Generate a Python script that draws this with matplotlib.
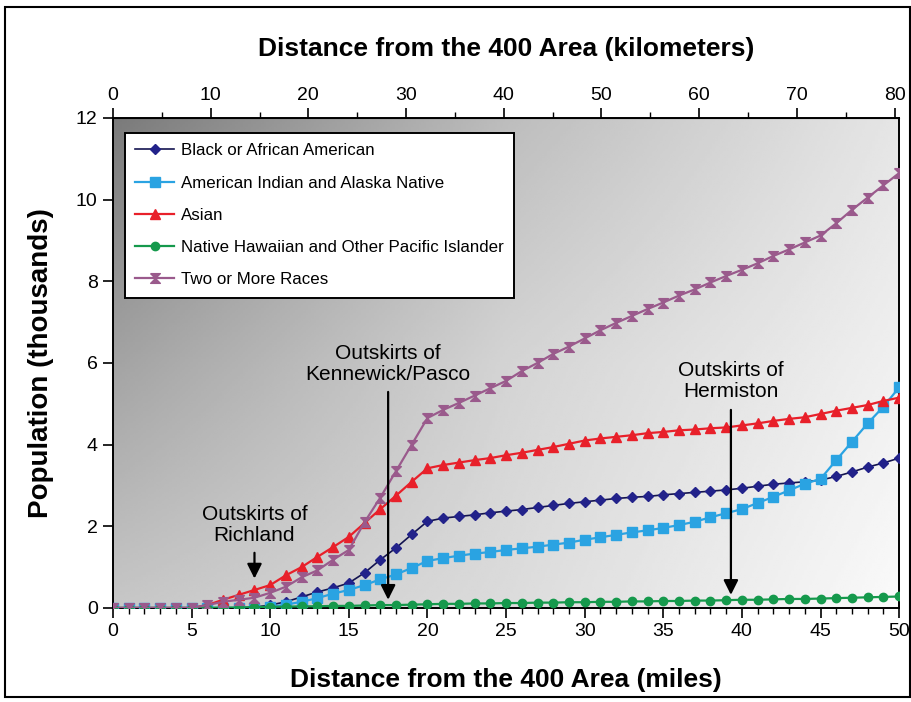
import numpy as np
import matplotlib
matplotlib.use("Agg")
import matplotlib.pyplot as plt
from matplotlib.patches import Rectangle

plt.rcParams['font.family'] = ['Liberation Sans', 'DejaVu Sans']

# distance from the 400 Area, miles
miles = list(range(0, 51))

# cumulative population (thousands) within each distance
black = [0, 0, 0, 0, 0, 0, 0, 0, 0, 0.02,
         0.07, 0.15, 0.27, 0.39, 0.49, 0.61, 0.86, 1.18, 1.47, 1.80,
         2.12, 2.20, 2.24, 2.28, 2.33, 2.37, 2.41, 2.46, 2.51, 2.56,
         2.60, 2.64, 2.68, 2.71, 2.73, 2.77, 2.80, 2.83, 2.86, 2.89,
         2.93, 2.98, 3.03, 3.06, 3.09, 3.13, 3.22, 3.33, 3.45, 3.55,
         3.67]
am_indian = [0, 0, 0, 0, 0, 0, 0, 0, 0, 0,
             0.02, 0.08, 0.15, 0.24, 0.35, 0.44, 0.56, 0.70, 0.82, 0.98,
             1.15, 1.22, 1.28, 1.33, 1.37, 1.42, 1.46, 1.50, 1.55, 1.60,
             1.67, 1.73, 1.79, 1.85, 1.90, 1.96, 2.03, 2.11, 2.22, 2.32,
             2.42, 2.57, 2.72, 2.88, 3.04, 3.16, 3.62, 4.07, 4.52, 4.93,
             5.40]
asian = [0, 0, 0, 0, 0, 0, 0.07, 0.20, 0.32, 0.44,
         0.56, 0.80, 1.00, 1.25, 1.49, 1.74, 2.08, 2.42, 2.75, 3.09,
         3.42, 3.50, 3.56, 3.62, 3.67, 3.74, 3.80, 3.87, 3.94, 4.02,
         4.10, 4.15, 4.19, 4.23, 4.28, 4.31, 4.35, 4.37, 4.40, 4.42,
         4.47, 4.52, 4.58, 4.63, 4.67, 4.75, 4.83, 4.90, 4.97, 5.07,
         5.15]
hawaiian = [0, 0, 0, 0, 0, 0, 0, 0.01, 0.01, 0.02,
            0.03, 0.03, 0.04, 0.04, 0.05, 0.05, 0.06, 0.07, 0.07, 0.08,
            0.09, 0.10, 0.10, 0.11, 0.11, 0.12, 0.12, 0.13, 0.13, 0.14,
            0.14, 0.15, 0.15, 0.16, 0.16, 0.17, 0.17, 0.18, 0.18, 0.19,
            0.20, 0.20, 0.21, 0.22, 0.22, 0.23, 0.24, 0.25, 0.26, 0.27,
            0.28]
two_plus = [0, 0, 0, 0, 0, 0, 0.07, 0.15, 0.20, 0.25,
            0.37, 0.52, 0.75, 0.92, 1.18, 1.42, 2.10, 2.70, 3.35, 4.00,
            4.65, 4.85, 5.02, 5.20, 5.38, 5.56, 5.80, 6.00, 6.22, 6.40,
            6.60, 6.80, 6.98, 7.15, 7.32, 7.48, 7.65, 7.80, 7.97, 8.13,
            8.28, 8.44, 8.62, 8.78, 8.95, 9.12, 9.42, 9.75, 10.05, 10.35,
            10.65]

labels = ['Black or African American',
          'American Indian and Alaska Native',
          'Asian',
          'Native Hawaiian and Other Pacific Islander',
          'Two or More Races']

# (text, x in miles, text y, arrow start y, arrow end y)
places = [('Outskirts of\nRichland', 9.0, 2.03, 1.35, 0.72),
          ('Outskirts of\nKennewick/Pasco', 17.5, 5.98, 5.29, 0.2),
          ('Outskirts of\nHermiston', 39.3, 5.56, 4.85, 0.32)]

hourglass = [(-1, 1), (1, 1), (-1, -1), (1, -1), (-1, 1)]

fig = plt.figure(figsize=(9.11, 7.02), dpi=100)
ax = fig.add_axes([0.124, 0.134, 0.863, 0.698])

# shaded background, dark top-left to near white bottom-right
shade = np.array([[0.48, 0.74, 0.90],
                  [0.64, 0.83, 0.94],
                  [0.78, 0.86, 0.98]])
nx, ny = 300, 200
gx = np.linspace(0, 2, nx)
gy = np.linspace(0, 2, ny)
rows = np.array([np.interp(gx, [0, 1, 2], r) for r in shade])
grid = np.array([np.interp(gy, [0, 1, 2], rows[:, i]) for i in range(nx)]).T
ax.imshow(grid, cmap='gray', vmin=0, vmax=1, aspect='auto',
          extent=(0, 50, 0, 12), origin='upper', zorder=0)

ax.plot(miles, black, color='#141450', marker='D', markersize=5.5,
        markerfacecolor='#22228a', markeredgecolor='#22228a', lw=1.2, label=labels[0], zorder=3)
ax.plot(miles, am_indian, color='#2aa3e2', marker='s', markersize=6.5,
        lw=1.6, label=labels[1], zorder=3)
ax.plot(miles, asian, color='#e8202a', marker='^', markersize=7.5,
        lw=1.6, label=labels[2], zorder=3)
ax.plot(miles, hawaiian, color='#15994c', marker='o', markersize=6,
        lw=1.6, label=labels[3], zorder=3)
ax.plot(miles, two_plus, color='#9a5a8c', marker=hourglass, markersize=7,
        lw=1.6, label=labels[4], zorder=4)

for txt, x, ty, y0, y1 in places:
    ax.text(x, ty, txt, ha='center', va='center', fontsize=15,
            linespacing=1.15, zorder=5)
    ax.annotate('', xy=(x, y1), xytext=(x, y0),
                arrowprops=dict(arrowstyle='-|>', color='black', lw=1.6,
                                mutation_scale=22, shrinkA=0, shrinkB=0),
                zorder=5)

ax.set_xlim(0, 50)
ax.set_ylim(0, 12)
ax.set_xticks(range(0, 51, 5))
ax.set_xticks(range(0, 51), minor=True)
ax.set_yticks(range(0, 13, 2))
ax.tick_params(axis='both', which='major', direction='out', length=7,
               width=1.2, labelsize=14, pad=4)
ax.tick_params(axis='x', which='minor', direction='out', length=4, width=1)
for s in ax.spines.values():
    s.set_linewidth(1.4)

ax.set_xlabel('Distance from the 400 Area (miles)', fontsize=19,
              fontweight='bold', labelpad=20)
ax.set_ylabel('Population (thousands)', fontsize=20, fontweight='bold',
              labelpad=16)

km = ax.secondary_xaxis('top', functions=(lambda m: m * 1.609344,
                                          lambda k: k / 1.609344))
km.set_xticks(range(0, 81, 10))
km.set_xticks(range(0, 81, 5), minor=True)
km.tick_params(which='major', direction='out', length=7, width=1.2,
               labelsize=14, pad=3)
km.tick_params(which='minor', direction='out', length=4, width=1)
km.set_xlabel('Distance from the 400 Area (kilometers)', fontsize=19,
              fontweight='bold', labelpad=22)

leg = ax.legend(loc='upper left', bbox_to_anchor=(0.0153, 0.969),
                borderaxespad=0, fontsize=12.2, fancybox=False,
                framealpha=1, edgecolor='black', labelspacing=1.02,
                handlelength=2.3, handletextpad=0.4, borderpad=0.6)
leg.get_frame().set_linewidth(1.4)
leg.set_zorder(6)

# outer border around the whole figure
fig.patches.append(Rectangle((5 / 911, 5 / 702), 905 / 911, 690 / 702,
                             transform=fig.transFigure, fill=False,
                             edgecolor='black', lw=1.5))

fig.savefig('out.png', dpi=100)
